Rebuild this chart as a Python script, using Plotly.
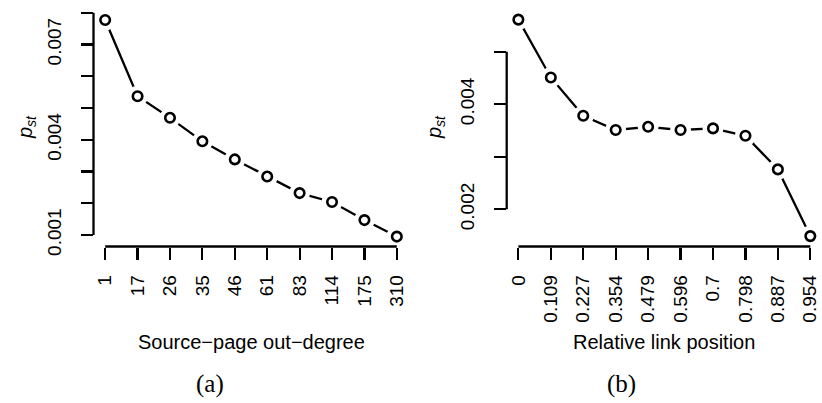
import plotly.graph_objects as go

# ---- data ----
deg_labels = ["1", "17", "26", "35", "46", "61", "83", "114", "175", "310"]
deg_pst = [0.00777, 0.00537, 0.00469, 0.00395, 0.00338, 0.00284, 0.00232, 0.00204, 0.00147, 0.00095]

pos_labels = ["0", "0.109", "0.227", "0.354", "0.479", "0.596", "0.7", "0.798", "0.887", "0.954"]
pos_pst = [0.00561, 0.00451, 0.00378, 0.00351, 0.00357, 0.00351, 0.00354, 0.00340, 0.00276, 0.00149]

# y ticks: every 0.001 marked, labels only where R had room
ytick_first_a, ytick_last_a, ylabel_step_a = 0.001, 0.008, 0.003
ytick_first_b, ytick_last_b, ylabel_step_b = 0.002, 0.005, 0.002
ytick_minor_step = 0.001

xtitle_a = "Source\u2212page out\u2212degree"
xtitle_b = "Relative link position"
ytitle = "<i>p<sub>st</sub></i>"

W, H = 822, 403
SANS = "Liberation Sans, Arial, sans-serif"
SERIF = "Liberation Serif, Times New Roman, serif"

fig = go.Figure()


def add_series(xs, ys, xa, ya):
    # connecting line
    fig.add_trace(go.Scatter(x=xs, y=ys, xaxis=xa, yaxis=ya, mode="lines",
                             line=dict(color="black", width=2.3), hoverinfo="skip"))
    # white halo to leave gaps around the points (R type = "b")
    fig.add_trace(go.Scatter(x=xs, y=ys, xaxis=xa, yaxis=ya, mode="markers",
                             marker=dict(size=21, color="white", line=dict(width=0)),
                             hoverinfo="skip"))
    # open circles
    fig.add_trace(go.Scatter(x=xs, y=ys, xaxis=xa, yaxis=ya, mode="markers",
                             marker=dict(size=9.5, color="white", symbol="circle",
                                         line=dict(color="black", width=2.6)),
                             cliponaxis=False))


add_series(deg_labels, deg_pst, "x", "y")
add_series(pos_labels, pos_pst, "x2", "y2")

ydom = [1 - 246.5 / H, 1 - 11.3 / H]
tickstyle = dict(ticks="outside", ticklen=12, tickwidth=2.2, tickcolor="black")
common_x = dict(type="category", range=[-0.36, 9.36], showline=False, showgrid=False,
                zeroline=False, tickangle=-90, automargin=False,
                tickfont=dict(family=SANS, size=19, color="black"),
                ticklabelstandoff=8, fixedrange=True, **tickstyle)
common_y = dict(showline=False, showgrid=False, zeroline=False, tickangle=-90,
                automargin=False, tickfont=dict(family=SANS, size=19, color="black"),
                ticklabelstandoff=12, tickmode="linear", fixedrange=True, domain=ydom,
                minor=dict(dtick=ytick_minor_step, showgrid=False, **tickstyle),
                **tickstyle)

fig.update_layout(
    template="none",
    width=W, height=H, margin=dict(l=0, r=0, t=0, b=0, pad=0),
    paper_bgcolor="white", plot_bgcolor="white", showlegend=False,
    xaxis=dict(domain=[93.5 / W, 408.5 / W], anchor="y", **common_x),
    yaxis=dict(anchor="x", range=[0.000638, 0.008044], tick0=ytick_first_a,
               dtick=ylabel_step_a, **common_y),
    xaxis2=dict(domain=[506.7 / W, 1.0], anchor="y2", **common_x),
    yaxis2=dict(anchor="x2", range=[0.001292, 0.005769], tick0=ytick_first_b,
                dtick=ylabel_step_b, **common_y),
)
fig.layout.yaxis.minor.tick0 = ytick_first_a
fig.layout.yaxis2.minor.tick0 = ytick_first_b

# R-style axis lines spanning first to last tick
for xa, ya, xl, y0, y1 in [("x", "y", deg_labels, ytick_first_a, ytick_last_a),
                           ("x2", "y2", pos_labels, ytick_first_b, ytick_last_b)]:
    fig.add_shape(type="line", xref=f"{xa} domain", yref=ya, x0=0, x1=0,
                  y0=y0, y1=y1, line=dict(color="black", width=2.3))
    fig.add_shape(type="line", xref=xa, yref=f"{ya} domain", x0=0, x1=len(xl) - 1,
                  y0=0, y1=0, line=dict(color="black", width=2.3))

ymid = 1 - 127 / H
annots = [
    dict(x=27 / W, y=ymid, text=ytitle, textangle=-90, font=dict(family=SANS, size=20)),
    dict(x=436 / W, y=ymid, text=ytitle, textangle=-90, font=dict(family=SANS, size=20)),
    dict(x=251 / W, y=1 - 342 / H, text=xtitle_a, font=dict(family=SANS, size=20)),
    dict(x=664.4 / W, y=1 - 342 / H, text=xtitle_b, font=dict(family=SANS, size=20)),
    dict(x=210 / W, y=1 - 384 / H, text="(a)", font=dict(family=SERIF, size=25)),
    dict(x=621.7 / W, y=1 - 384 / H, text="(b)", font=dict(family=SERIF, size=25)),
]
for a in annots:
    fig.add_annotation(xref="paper", yref="paper", showarrow=False,
                       xanchor="center", yanchor="middle", **a)
fig.update_annotations(font_color="black")

fig.write_html(
    "out.html",
    config={"displayModeBar": False, "staticPlot": True},
    post_script="document.body.style.margin='0';document.body.style.padding='0';"
                "document.documentElement.style.overflow='hidden';",
)
